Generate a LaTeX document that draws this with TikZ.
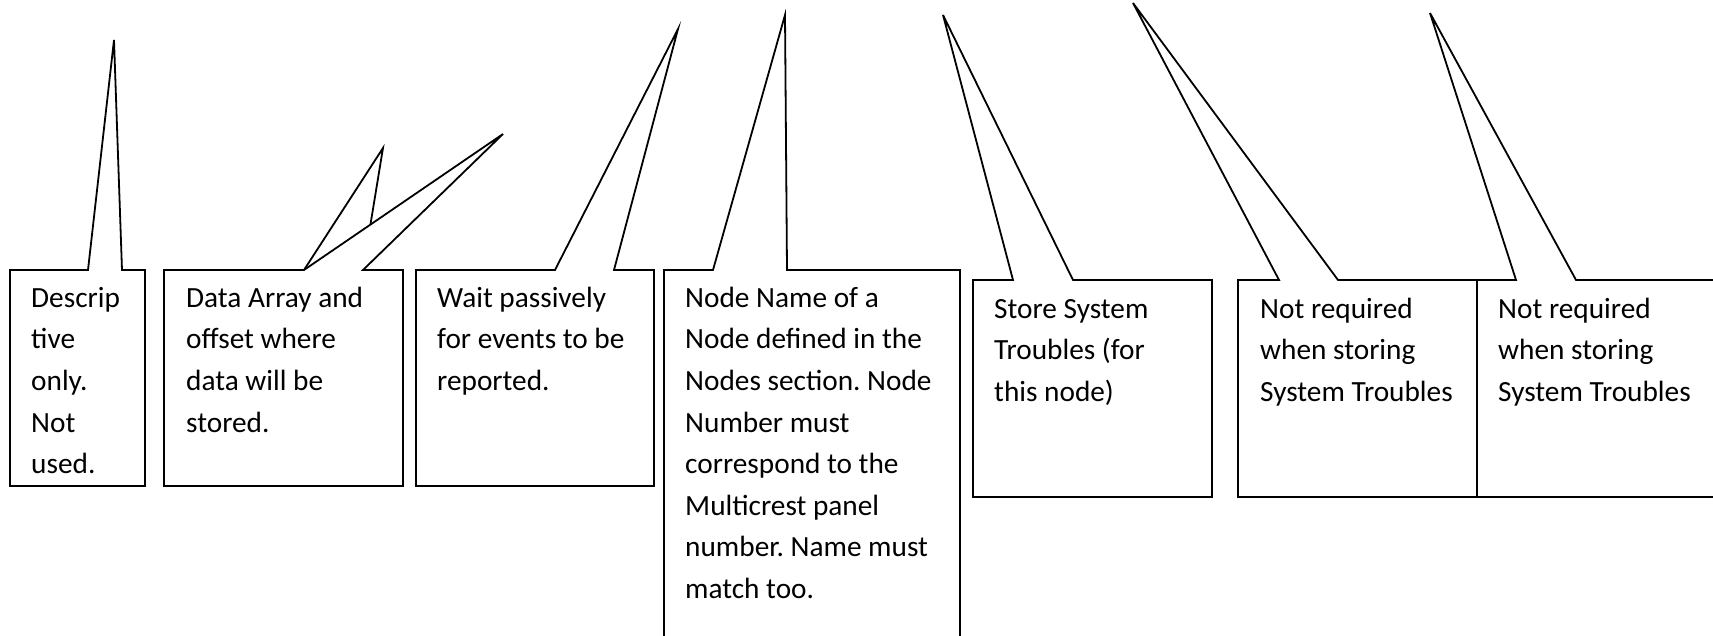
\documentclass[tikz,border=0pt]{standalone}
\usepackage{fontspec}
\setmainfont{Carlito}
\frenchspacing
\usetikzlibrary{calc}
\tikzset{
    % every callout is a white box with a pointed tail on its top edge
    callout/.style={draw=black,fill=white,line width=1.8pt,line join=miter},
    calltext/.style={anchor=north west,align=left,inner sep=0pt,font=\fontsize{29.3}{41.6}\selectfont},
}
% #1 left, #2 top, #3 right, #4 bottom, #5/#6 tail base, #7 tip
\newcommand{\calloutshape}[7]{%
    \draw[callout] (#1,#2) -- (#5,#2) -- (#7) -- (#6,#2) -- (#3,#2) -- (#3,#4) -- (#1,#4) -- cycle;}
% fixed height of the first line, so that its baseline sits 25pt below the node top
\newcommand{\firstline}{\rule{0pt}{25pt}}

\begin{document}
\begin{tikzpicture}[x=1pt,y=-1pt]
    \useasboundingbox (0,0) rectangle (1713,636);
    \coordinate (descr-tip) at (114,40);
    \coordinate (data-tipA) at (383,148);
    \coordinate (data-tipB) at (503,134);
    \coordinate (wait-tip) at (678,29);
    \coordinate (nodename-tip) at (785,15);
    \coordinate (store-tip) at (943,15);
    \coordinate (notreqA-tip) at (1133,3);
    \coordinate (notreqB-tip) at (1430,13);

    \calloutshape{10}{270}{145}{486}{88}{122}{descr-tip}
    \node[calltext] (descr) at (31,282) {\firstline Descrip\\tive\\only.\\Not\\used.};

    \draw[callout] (304,270) -- (data-tipA) -- (363,270);
    \calloutshape{164}{270}{403}{486}{304}{363}{data-tipB}
    \node[calltext] (data) at (186,282) {\firstline Data Array and\\offset where\\data will be\\stored.};

    \calloutshape{416}{270}{654}{486}{555}{614}{wait-tip}
    \node[calltext] (wait) at (437,282) {\firstline Wait passively\\for events to be\\reported.};

    \calloutshape{664}{270}{960}{660}{713}{787}{nodename-tip}
    \node[calltext] (nodename) at (685,282) {\firstline Node Name of a\\Node defined in the\\Nodes section. Node\\Number must\\correspond to the\\Multicrest panel\\number. Name must\\match too.};

    \calloutshape{973}{280}{1212}{497}{1013}{1073}{store-tip}
    \node[calltext] (store) at (994,293) {\firstline Store System\\Troubles (for\\this node)};

    \calloutshape{1238}{280}{1477}{497}{1279}{1338}{notreqA-tip}
    \node[calltext] (notreqA) at (1260,293) {\firstline Not required\\when storing\\System Troubles};

    \calloutshape{1477}{280}{1740}{497}{1516}{1576}{notreqB-tip}
    \node[calltext] (notreqB) at (1498,293) {\firstline Not required\\when storing\\System Troubles};
\end{tikzpicture}
\end{document}
